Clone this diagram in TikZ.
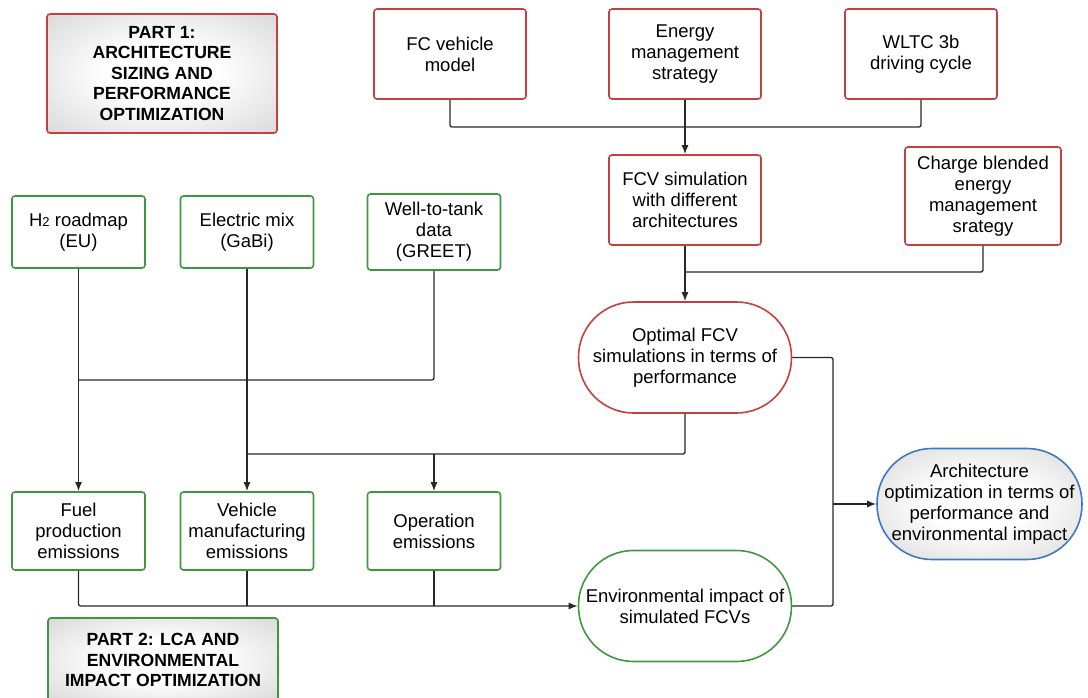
\documentclass[tikz,border=0pt]{standalone}
\usepackage{fontspec}
\setmainfont{Liberation Sans}
\usetikzlibrary{arrows.meta,positioning,calc}

\definecolor{partred}{RGB}{196,64,64}
\definecolor{partgreen}{RGB}{64,150,64}
\definecolor{partblue}{RGB}{64,120,196}
\definecolor{linkgray}{RGB}{40,40,40}
\pgfdeclareradialshading{boxglow}{\pgfpoint{0bp}{0bp}}{color(0bp)=(white); color(12bp)=(white); color(50bp)=(black!24); color(72bp)=(black!30)}

\begin{document}
\begin{tikzpicture}[
  x=1pt, y=-1pt,
  box/.style={draw, rounded corners=3pt, line width=1.6pt, align=center, inner sep=2pt, font=\fontsize{18.5}{21}\selectfont},
  redbox/.style={box, draw=partred},
  greenbox/.style={box, draw=partgreen},
  topbox/.style={redbox, minimum width=152pt, minimum height=90pt},
  lcabox/.style={greenbox, minimum width=133pt, minimum height=76pt},
  pill/.style={box, minimum width=213pt, minimum height=111pt, rounded corners=55pt},
  partbox/.style={box, shade, shading=boxglow, minimum width=230pt, font=\bfseries\fontsize{17.6}{20.5}\selectfont},
  line/.style={linkgray, line width=1.3pt, rounded corners=2pt},
  arrow/.style={line, -{Latex[length=9pt,width=7pt]}}
]
\useasboundingbox (0,0) rectangle (1088,698);

% Part 1
\node[partbox, draw=partred, minimum height=119pt] (partone) at (162,73.5) {PART 1:\\ARCHITECTURE\\SIZING AND\\PERFORMANCE\\OPTIMIZATION};

% Simulation inputs
\node[topbox] (fcmodel) at (450,54) {FC vehicle\\model};
\node[topbox] (ems) at (685,54) {Energy\\management\\strategy};
\node[topbox] (wltc) at (921,54) {WLTC 3b\\driving cycle};

% Simulation
\node[topbox] (fcvsim) at (685,200) {FCV simulation\\with different\\architectures};
\node[redbox, minimum width=156pt, minimum height=98pt] (charge) at (983,196) {Charge blended\\energy\\management\\srategy};
\node[pill, draw=partred] (optimal) at (685,357.5) {Optimal FCV\\simulations in terms of\\performance};

% Final result
\node[pill, draw=partblue, shade, shading=boxglow, minimum width=205pt] (archopt) at (979.5,504) {Architecture\\optimization in terms of\\performance and\\environmental impact};

% LCA data
\node[lcabox, minimum height=72pt] (h2) at (78.5,232) {H{\fontsize{13}{13}\selectfont 2} roadmap\\(EU)};
\node[lcabox, minimum height=72pt] (elec) at (247,232) {Electric mix\\(GaBi)};
\node[lcabox] (wtt) at (434,232) {Well-to-tank\\data\\(GREET)};

% Emissions
\node[lcabox, minimum height=78pt] (fuel) at (78.5,531) {Fuel\\production\\emissions};
\node[lcabox, minimum height=78pt] (vehman) at (247,531) {Vehicle\\manufacturing\\emissions};
\node[lcabox, minimum height=78pt] (operation) at (434,531) {Operation\\emissions};
\node[pill, draw=partgreen] (envimp) at (685,606) {Environmental impact of\\simulated FCVs};

% Part 2
\node[partbox, draw=partgreen, minimum height=84pt] (parttwo) at (163,660) {PART 2: LCA AND\\ENVIRONMENTAL\\IMPACT OPTIMIZATION};

% Connectors: simulation side
\coordinate (topjoin) at (685,127);
\draw[line] (fcmodel) |- (topjoin);
\draw[line] (wltc) |- (topjoin);
\draw[arrow] (ems) -- (fcvsim);
\coordinate (chargejoin) at (685,272);
\draw[line] (charge) |- (chargejoin);
\draw[arrow] (fcvsim) -- (optimal);

% Connectors: results
\coordinate (resjoin) at (833,504);
\draw[line] (optimal) -| (resjoin);
\draw[line] (envimp) -| (resjoin);
\draw[arrow] (resjoin) -- (archopt);

% Connectors: LCA side
\coordinate (dbjoin) at (78.5,380);
\draw[line] (wtt) |- (dbjoin);
\draw[arrow] (h2) -- (fuel);
\draw[arrow] (elec) -- (vehman);
\coordinate (perfjoin) at (247,454);
\coordinate (opjoin) at (434,454);
\draw[line] (optimal) |- (perfjoin);
\draw[arrow] (opjoin) -- (operation);

% Connectors: emissions
\coordinate (vehjoin) at (247,606);
\coordinate (emjoin) at (434,606);
\draw[arrow] (fuel) |- (envimp);
\draw[line] (vehman) -- (vehjoin);
\draw[line] (operation) -- (emjoin);

\end{tikzpicture}
\end{document}
